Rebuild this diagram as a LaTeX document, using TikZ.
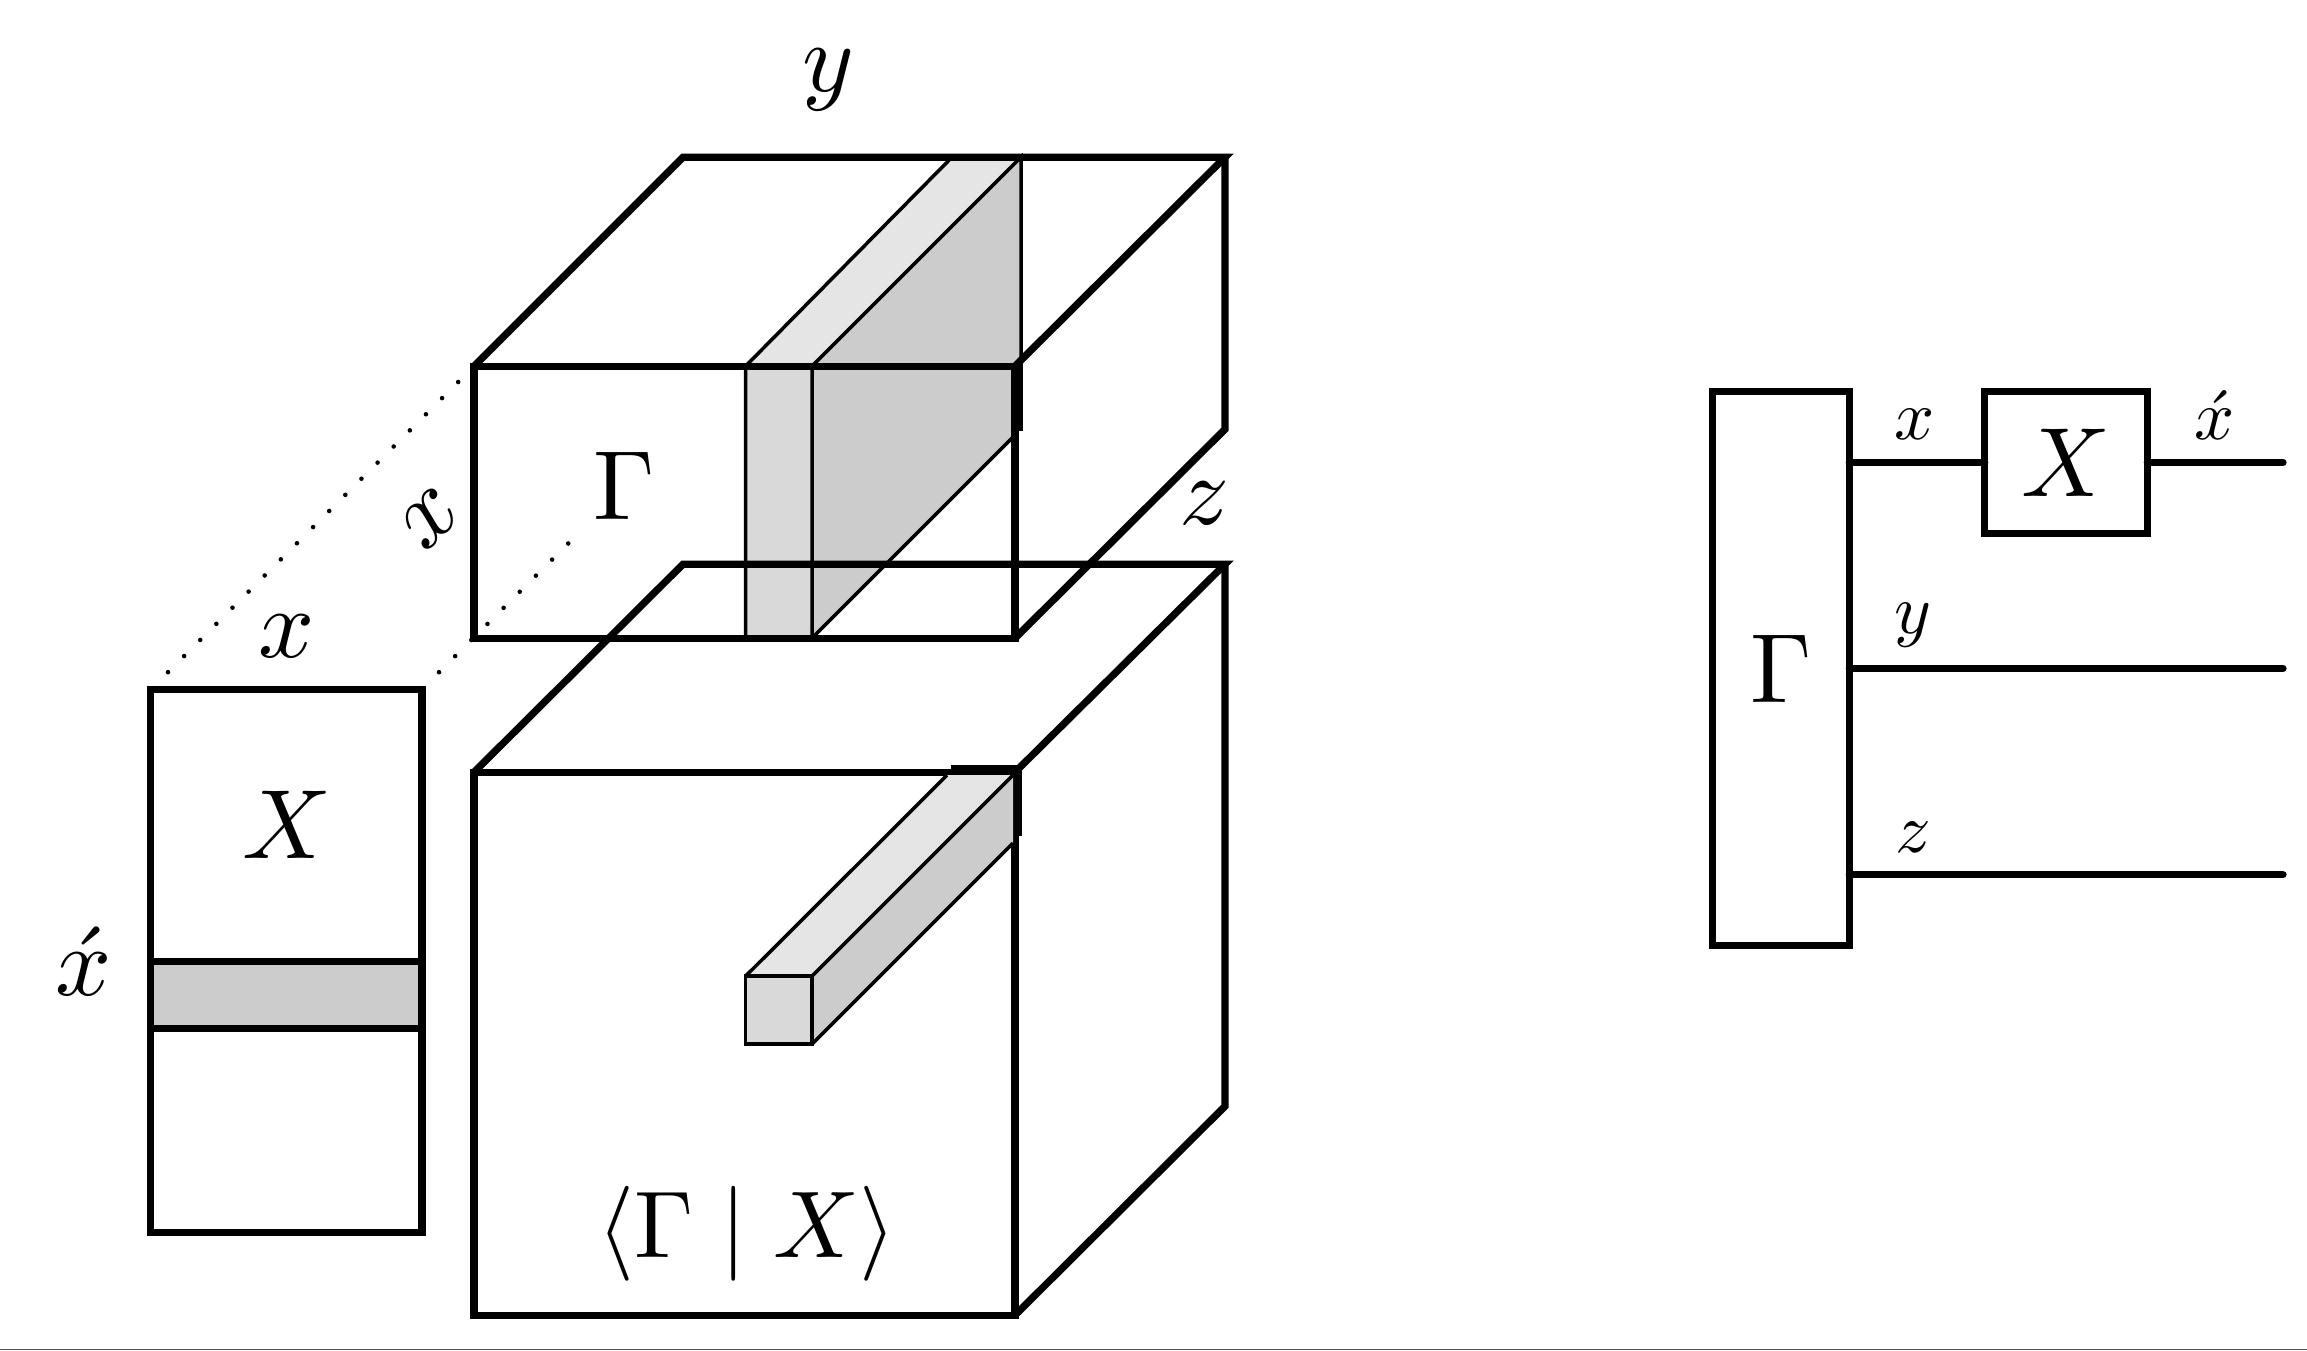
\documentclass[tikz,border=0pt]{standalone}
\usepackage{amsmath}
\usepackage{xcolor}
\usepackage{tikz}
\usetikzlibrary{positioning}
\definecolor{slabtop}{gray}{0.90}
\definecolor{slabfront}{gray}{0.85}
\definecolor{slabside}{gray}{0.80}
\newcommand{\biglabel}[1]{\scalebox{2.8}{$#1$}}
\newcommand{\smalllabel}[1]{\scalebox{2.0}{$#1$}}

\begin{document}
\begin{tikzpicture}[
  thickln/.style={line width=2.05pt, line join=miter},
  thinln/.style={line width=1pt},
  blockbox/.style={
    rectangle, draw=black, line width=2.05pt,
    inner sep=0pt, outer sep=0pt
  },
  wire/.style={line width=2.05pt, line cap=round},
  dotln/.style={line width=1.3pt, line cap=round, dash pattern=on 0pt off 0.228cm},
  labl/.style={anchor=base, inner sep=0pt}
]
  \useasboundingbox (0,0.012) rectangle (23.07,13.512);

  % Slab through the upper cube
  \fill[slabtop]   (7.455,9.85) -- (8.12,9.85) -- (10.21,11.94) -- (9.52,11.94) -- cycle;
  \fill[slabfront] (7.455,9.85) rectangle (8.12,7.13);
  \fill[slabside]  (8.12,9.85) -- (10.21,11.94) -- (10.21,9.85) -- (10.15,9.85)
                   -- (10.15,9.16) -- (8.12,7.13) -- cycle;
  \draw[thinln] (7.455,7.13) -- (7.455,9.85) -- (9.52,11.94);
  \draw[thinln] (8.12,7.13) -- (8.12,9.85) -- (10.21,11.94) -- (10.21,9.85);
  \draw[thinln] (8.12,7.13) -- (10.15,9.16);

  % Upper cube
  \draw[thickln] (4.74,7.13) rectangle (10.15,9.85);
  \draw[thickln] (4.74,9.85) -- (6.83,11.94) -- (12.25,11.94) -- (10.15,9.85);
  \draw[thickln] (12.25,11.94) -- (12.25,9.22) -- (10.15,7.13);
  \draw[thickln] (10.19,9.85) -- (10.19,9.2);

  % Lower cube
  \draw[thickln] (4.74,0.36) rectangle (10.15,5.79);
  \draw[thickln] (4.74,5.79) -- (6.83,7.87) -- (12.25,7.87) -- (10.15,5.79);
  \draw[thickln] (12.25,7.87) -- (12.25,2.45) -- (10.15,0.36);

  % Bar inside the lower cube
  \fill[slabtop]   (7.455,3.75) -- (8.12,3.75) -- (10.13,5.76) -- (9.47,5.76) -- cycle;
  \fill[slabside]  (8.12,3.75) -- (10.13,5.76) -- (10.13,5.08) -- (8.12,3.07) -- cycle;
  \draw[thinln, fill=slabfront] (7.455,3.07) rectangle (8.12,3.75);
  \draw[thinln] (7.455,3.75) -- (9.47,5.76);
  \draw[thinln] (8.12,3.75) -- (10.13,5.76);
  \draw[thinln] (8.12,3.07) -- (10.13,5.08);
  \draw[thickln] (9.51,5.83) -- (10.18,5.83) -- (10.18,5.15);

  % Dotted guides between the row and the cube
  \coordinate (dotaa) at (1.68,6.79);
  \coordinate (dotab) at (4.60,9.71);
  \coordinate (dotba) at (4.39,6.79);
  \coordinate (dotbb) at (5.695,8.09);
  \draw[dotln] (dotaa) -- (dotab);
  \draw[dotln] (dotba) -- (dotbb);

  % Row matrix on the left
  \node[blockbox, minimum width=2.715cm, minimum height=5.43cm] (xmatrix) at (2.8625,3.905) {};
  \node[blockbox, fill=slabside, minimum width=2.715cm, minimum height=0.67cm] (xrow) at (2.8625,3.565) {};

  % Labels of the cubes
  \node[labl] (ylabel)  at (8.28,12.60) {\biglabel{y}};
  \node[labl] (zlabel)  at (12.05,8.27) {\biglabel{z}};
  \node[inner sep=0pt, rotate=45] (xside) at (4.30,8.33) {\biglabel{x}};
  \node[labl] (gammaup) at (6.24,8.32) {\biglabel{\Gamma}};
  \node[labl] (braket)  at (7.47,0.94) {\scalebox{2.7}{$\langle\Gamma\mid X\rangle$}};
  \node[labl] (xtop)    at (2.87,6.94) {\biglabel{x}};
  \node[labl] (xmat)    at (2.875,4.925) {\biglabel{X}};
  \node[labl] (xrowlab) at (0.835,3.56) {\biglabel{\acute{x}}};

  % Circuit on the right
  \node[blockbox, minimum width=1.365cm, minimum height=5.538cm] (gammabox) at (17.81,6.825) {\biglabel{\Gamma}};
  \node[blockbox, minimum width=1.625cm, minimum height=1.414cm] (xbox) at (20.66,8.887) {\biglabel{X}};
  \coordinate (xout) at (22.83,8.887);
  \coordinate (yout) at (22.83,6.827);
  \coordinate (zout) at (22.83,4.764);

  \draw[wire] (gammabox.east |- xbox.west) -- (xbox.west);
  \draw[wire] (xbox.east) -- (xout);
  \draw[wire] (gammabox.east |- yout) -- (yout);
  \draw[wire] (gammabox.east |- zout) -- (zout);
  \node[labl] (xwire)    at (19.15,9.115) {\smalllabel{x}};
  \node[labl] (xoutwire) at (22.15,9.115) {\smalllabel{\acute{x}}};
  \node[labl] (ywire)    at (19.13,7.18)  {\smalllabel{y}};
  \node[labl] (zwire)    at (19.13,4.99)  {\smalllabel{z}};

  % Page edge
  \coordinate (edgeleft)  at (0,0.019);
  \coordinate (edgeright) at (23.07,0.019);
  \draw[line width=0.4pt, color=black!70] (edgeleft) -- (edgeright);
\end{tikzpicture}
\end{document}
